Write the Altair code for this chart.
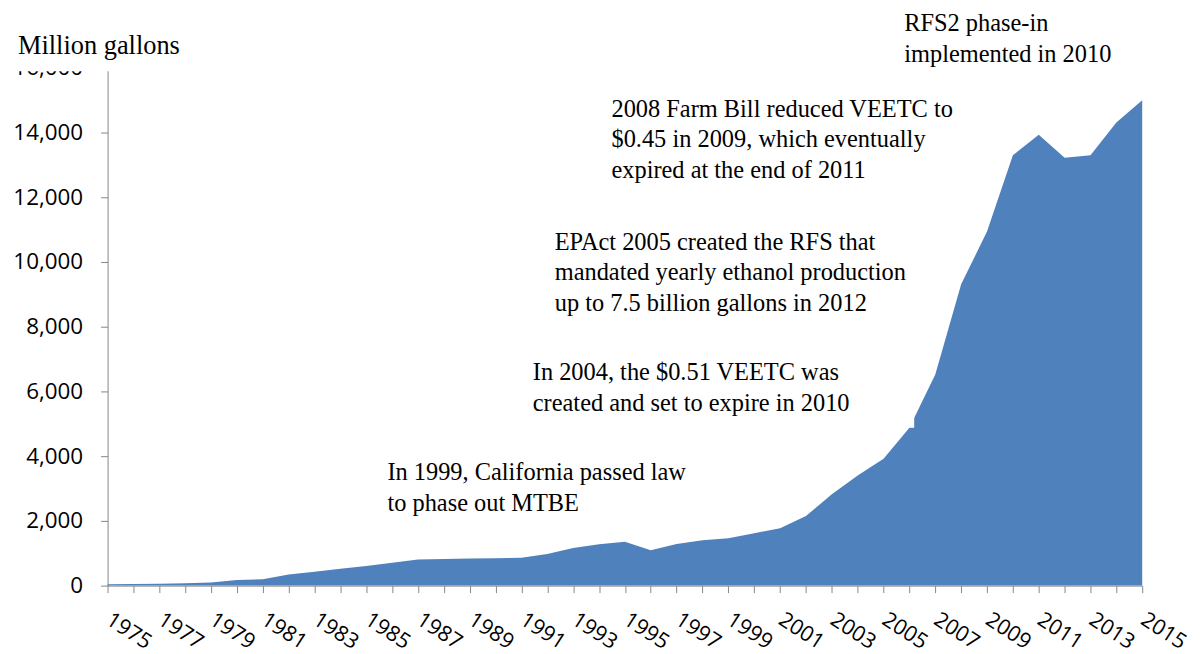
import altair as alt
import pandas as pd

years = list(range(1975, 2016))
production = [40, 50, 60, 75, 100, 170, 200, 340, 430, 520,
              610, 710, 810, 820, 835, 845, 860, 975, 1160, 1280,
              1355, 1090, 1285, 1400, 1460, 1620, 1775, 2150, 2820, 3405,
              3920, 4875, 6520, 9310, 10940, 13300, 13930, 13220, 13300, 14310,
              15000]
y_ticks = list(range(0, 16001, 2000))

unit_label = ["Million gallons"]
note_rfs2 = ["RFS2 phase-in", "implemented in 2010"]
note_farm = ["2008 Farm Bill reduced VEETC to", "$0.45 in 2009, which eventually", "expired at the end of 2011"]
note_epact = ["EPAct 2005 created the RFS that", "mandated yearly ethanol production", "up to 7.5 billion gallons in 2012"]
note_2004 = ["In 2004, the $0.51 VEETC was", "created and set to expire in 2010"]
note_1999 = ["In 1999, California passed law", "to phase out MTBE"]

df = pd.DataFrame({"year": years, "production": production})
one = pd.DataFrame({"k": [0]})

AX = "#868686"
W, H = 1039, 520

area = alt.Chart(df).mark_area(color="#4F81BD").encode(
    x=alt.X("year:Q",
            scale=alt.Scale(domain=[1975, 2015], nice=False, zero=False),
            axis=alt.Axis(values=years, format="d",
                          labelExpr="datum.value % 2 == 1 ? datum.label : ''",
                          labelAngle=33, labelAlign="left", labelBaseline="top",
                          labelPadding=16, labelOffset=6, tickSize=7, labelFlush=False,
                          labelOverlap=False, grid=False, title=None,
                          labelFontSize=21.5, labelFont="Open Sans", labelColor="black",
                          domainColor=AX, tickColor=AX)),
    y=alt.Y("production:Q",
            scale=alt.Scale(domain=[0, 16000], nice=False),
            axis=alt.Axis(values=y_ticks, format=",d", tickSize=7, labelPadding=18,
                          labelFontSize=22.5, labelFont="Open Sans", labelColor="black",
                          grid=False, title=None, domainColor=AX, tickColor=AX)),
)

cover_top = alt.Chart(one).mark_rect(color="white").encode(
    x=alt.value(-100), x2=alt.value(2), y=alt.value(-30), y2=alt.value(3.5))
cover_box = alt.Chart(one).mark_rect(color="white").encode(
    x=alt.value(780), x2=alt.value(810), y=alt.value(300), y2=alt.value(361.5))


def note(lines, px, py, size=24.5):
    return alt.Chart(one).mark_text(
        align="left", baseline="alphabetic", font="Liberation Serif",
        fontSize=size, lineHeight=31, color="black"
    ).encode(x=alt.value(px), y=alt.value(py), text=alt.value(lines))


chart = alt.layer(
    area, cover_top, cover_box,
    note(unit_label, -90, -14, 26.5),
    note(note_rfs2, 800, -36.5),
    note(note_farm, 506, 49),
    note(note_epact, 449, 182.6),
    note(note_2004, 427, 313.3),
    note(note_1999, 281, 414),
).properties(
    width=W, height=H,
    autosize=alt.AutoSizeParams(type="none"),
    padding={"left": 100, "top": 58.7, "right": 50, "bottom": 67},
    background="white",
).configure_view(stroke=None)

chart.save("out.html", embed_options={"renderer": "svg", "actions": False})
